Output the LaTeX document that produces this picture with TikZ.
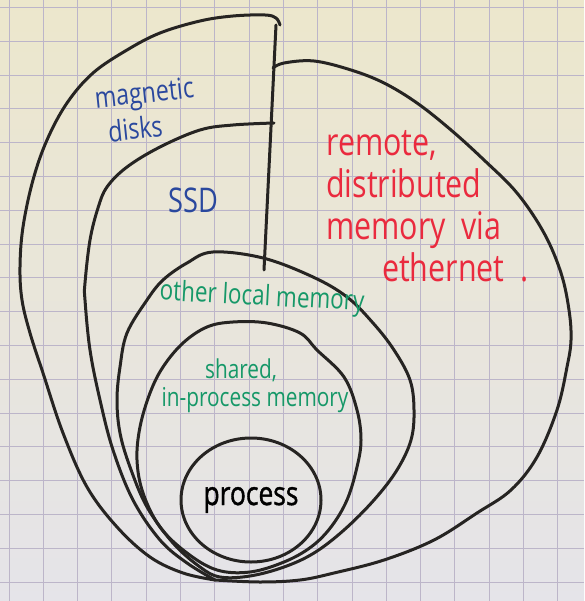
\documentclass[tikz,border=0pt]{standalone}
\usepackage{fontspec}
\setmainfont{Open Sans}
\newfontfamily\handfont[FakeStretch=0.8]{Open Sans}
\newfontfamily\thickhand[FakeStretch=0.8,FakeBold=1.2]{Open Sans}
\usetikzlibrary{shapes.geometric,positioning}

\definecolor{paper}{RGB}{236,231,204}
\definecolor{paperlow}{RGB}{229,228,233}
\definecolor{gridline}{RGB}{188,181,201}
\definecolor{ink}{RGB}{38,36,34}
\definecolor{penblue}{RGB}{42,72,158}
\definecolor{penred}{RGB}{234,42,62}
\definecolor{pengreen}{RGB}{22,152,104}

\begin{document}
\begin{tikzpicture}[
  x=1pt, y=-1pt,
  every node/.style={inner sep=0pt},
  stroke/.style={draw=ink, line width=3pt, line cap=round, line join=round},
  gridrule/.style={draw=gridline, line width=1pt},
  blueink/.style={text=penblue, align=left, font=\handfont\fontsize{29}{35}\selectfont},
  redink/.style={text=penred, align=left, font=\handfont\fontsize{38}{42}\selectfont},
  greenink/.style={text=pengreen, align=center, font=\handfont\fontsize{26}{28}\selectfont},
  procbox/.style={stroke, ellipse, minimum width=140pt, minimum height=124pt,
                  font=\thickhand\fontsize{33}{30}\selectfont}
]
\useasboundingbox (0,0) rectangle (584,601);
\fill[top color=paper, bottom color=paperlow] (0,0) rectangle (584,601);
\foreach \gx in {0,...,16}
  \draw[gridrule] ({9+34.3*\gx},0) -- ++(0,601);
\foreach \gy in {0,...,17}
  \draw[gridrule] (0,{7.5+33.8*\gy}) -- ++(584,0);

\coordinate (divtop) at (276,25);
\coordinate (divbot) at (264,270);
\coordinate (root) at (215,580);

\draw[stroke] plot[smooth, tension=0.6] coordinates {
  (280,25) (276,18) (265,15) (233,16) (200,21) (160,33) (127,50) (93,73)
  (67,103) (47,140) (33,180) (23,227) (20,267) (22,300) (30,333) (43,373)
  (63,433) (87,487) (117,527) (150,557) (183,573) (root)};
\draw[stroke] plot[smooth, tension=0.6] coordinates {
  (274,123) (233,125) (200,130) (160,147) (127,167) (107,187) (98,208)
  (90,240) (85,283) (85,300) (90,350) (100,400) (113,450) (133,500)
  (160,540) (187,563) (root)};
\draw[stroke] plot[smooth, tension=0.6] coordinates {
  (273,68) (284,63) (314,61) (351,70) (384,83) (417,103) (451,130)
  (484,160) (517,193) (544,233) (561,273) (569,310) (571,340) (567,367)
  (557,410) (537,457) (511,490) (477,513) (434,540) (384,560) (334,573)
  (300,580) (260,582) (root)};
\draw[stroke] (divtop) -- (divbot);

\draw[stroke] plot[smooth cycle, tension=0.6] coordinates {
  (213,252) (263,258) (313,277) (347,297) (373,323) (394,350) (410,380)
  (414,410) (411,440) (397,470) (374,500) (344,530) (314,553) (284,567)
  (250,576) (220,577) (200,567) (173,543) (147,507) (130,467) (120,433)
  (117,400) (120,367) (127,333) (147,300) (163,280) (187,263)};
\draw[stroke] plot[smooth cycle, tension=0.6] coordinates {
  (233,322) (267,323) (300,333) (317,350) (344,377) (357,410) (361,440)
  (357,467) (347,500) (331,527) (311,547) (284,562) (250,572) (217,570)
  (187,553) (160,527) (143,493) (137,460) (140,427) (150,393) (163,367)
  (183,343) (207,327)};

\node[procbox] (proc) at (251,500) {process};

\node[blueink, rotate=6] (disks) at (146,110) {magnetic\\\hspace*{10pt}disks};
\node[blueink, font=\handfont\fontsize{34}{34}\selectfont] (ssd) at (193,200) {SSD};
\node[redink, anchor=north west] (remote) at (326,130)
  {remote,\\distributed\\memory\ \ via\\\hspace*{56pt}ethernet\ \ .};
\node[greenink, rotate=-3, font=\handfont\fontsize{28}{28}\selectfont]
  (localmem) at (262,298) {other local memory};
\node[greenink] (shared) at (255,386) {\hspace*{-28pt}shared,\\in-process memory};
\end{tikzpicture}
\end{document}
